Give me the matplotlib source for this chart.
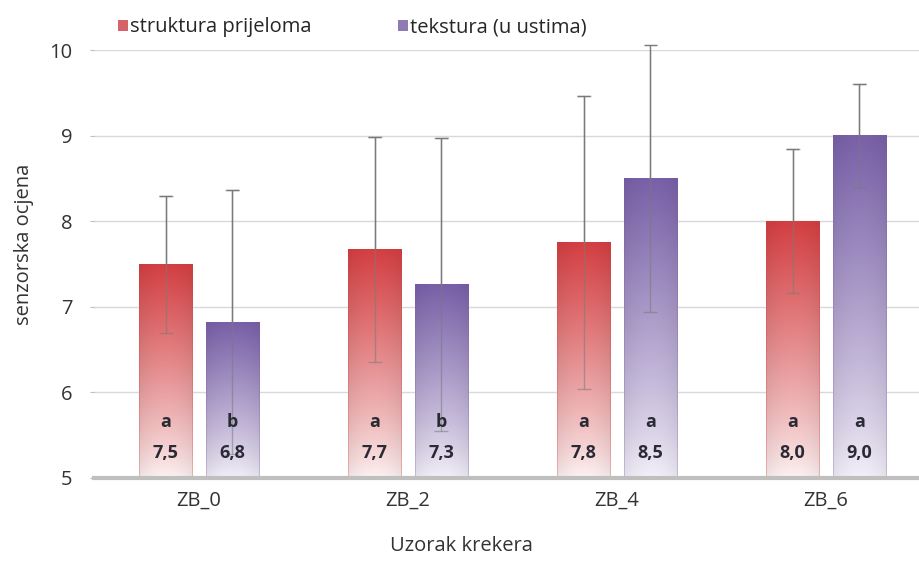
import numpy as np
import matplotlib.pyplot as plt
from matplotlib.colors import to_rgb
from matplotlib.patches import Patch

plt.rcParams['font.family'] = ['Open Sans', 'DejaVu Sans']

# data
categories = ['ZB_0', 'ZB_2', 'ZB_4', 'ZB_6']
series_names = ['struktura prijeloma', 'tekstura (u ustima)']
struktura = [7.50, 7.67, 7.75, 8.00]
tekstura = [6.82, 7.26, 8.50, 9.00]
struktura_sd = [0.80, 1.31, 1.71, 0.84]
tekstura_sd = [1.54, 1.71, 1.56, 0.60]
struktura_letters = ['a', 'a', 'a', 'a']
tekstura_letters = ['b', 'b', 'a', 'a']

red_top, red_bot = '#D43F42', '#FDF3F3'
pur_top, pur_bot = '#7960A8', '#F4F1F9'
fs = 14.5      # axis text
fs_bar = 13    # labels inside bars


def gradient_bar(ax, xc, width, top, c_top, c_bot, base=5.0):
    """Excel-like vertical gradient fill for one bar."""
    n = 200
    t = np.linspace(0, 1, n)[:, None, None] ** 0.85
    u = np.linspace(0, 1, 40)[None, :, None]
    ct = np.array(to_rgb(c_top))[None, None, :]
    cb = np.array(to_rgb(c_bot))[None, None, :]
    img = cb + (ct - cb) * t
    shade = 1 - 0.06 * (np.abs(u - 0.5) * 2) ** 2
    img = np.clip(img * shade, 0, 1)
    ax.imshow(img, origin='lower', aspect='auto', zorder=2,
              extent=[xc - width / 2, xc + width / 2, base, top])
    ax.bar(xc, top - base, width, bottom=base, facecolor='none',
           edgecolor=c_top, linewidth=0.6, alpha=0.35, zorder=2.5)


def draw_err(ax, xs, vals, sd):
    # whole bar faded (inside the bar), then the part above the bar solid
    vals = np.asarray(vals)
    sd = np.asarray(sd)
    ax.errorbar(xs, vals, yerr=sd, fmt='none', ecolor='#7a7a7a',
                elinewidth=1, capsize=4.7, capthick=1, zorder=3, alpha=0.55)
    ax.vlines(xs, vals, vals + sd, color='#7a7a7a', lw=1, zorder=3.1,
              clip_on=False)
    ax.hlines(vals + sd, xs - 0.031, xs + 0.031, color='#7a7a7a', lw=1,
              zorder=3.1, clip_on=False)


fig = plt.figure(figsize=(9.2, 5.63), dpi=100)
ax = fig.add_axes([0.1027, 0.151, 0.8973, 0.760])

x = np.arange(len(categories))
w = 0.256
off = 0.16

for i in range(len(categories)):
    gradient_bar(ax, x[i] - off, w, struktura[i], red_top, red_bot)
    gradient_bar(ax, x[i] + off, w, tekstura[i], pur_top, pur_bot)

draw_err(ax, x - off, struktura, struktura_sd)
draw_err(ax, x + off, tekstura, tekstura_sd)

for i in range(len(categories)):
    for xs, v, let in ((x[i] - off, struktura[i], struktura_letters[i]),
                       (x[i] + off, tekstura[i], tekstura_letters[i])):
        ax.text(xs, 5.65, let, ha='center', va='center', fontsize=fs_bar,
                fontweight='bold', color='#2a2a35', zorder=4)
        ax.text(xs, 5.29, f'{v:.1f}'.replace('.', ','), ha='center', va='center',
                fontsize=fs_bar, fontweight='bold', color='#2a2a35', zorder=4)

ax.set_xlim(-0.5, 3.45)
ax.set_ylim(5, 10)
ax.set_yticks([5, 6, 7, 8, 9, 10])
ax.set_xticks(x)
ax.set_xticklabels(categories)
ax.grid(axis='y', color='#d9d9d9', linewidth=1, zorder=0)
ax.set_axisbelow(True)

for s in ['top', 'right', 'left']:
    ax.spines[s].set_visible(False)
ax.spines['bottom'].set_color('#bfbfbf')
ax.spines['bottom'].set_linewidth(3)
ax.spines['bottom'].set_zorder(5)

ax.tick_params(axis='y', length=3, color='#bfbfbf', pad=13, labelsize=fs,
               labelcolor='#333333')
ax.tick_params(axis='x', length=0, pad=9, labelsize=fs, labelcolor='#333333')

ax.set_ylabel('senzorska ocjena', fontsize=fs, color='#333333')
ax.yaxis.set_label_coords(-0.073, 0.547)
ax.set_xlabel('Uzorak krekera', fontsize=fs, color='#333333')
ax.xaxis.set_label_coords(0.445, -0.135)

handles = [Patch(facecolor='#D6636A', edgecolor='none'),
           Patch(facecolor='#8E7BB6', edgecolor='none')]
fig.legend(handles, series_names, loc='upper left', ncol=2, frameon=False,
           bbox_to_anchor=(0.113, 0.994), fontsize=fs, handlelength=0.5,
           handleheight=0.5, handletextpad=0.1, columnspacing=4.3,
           labelcolor='#262626', borderaxespad=0.3)

fig.savefig('out.png', dpi=100)
